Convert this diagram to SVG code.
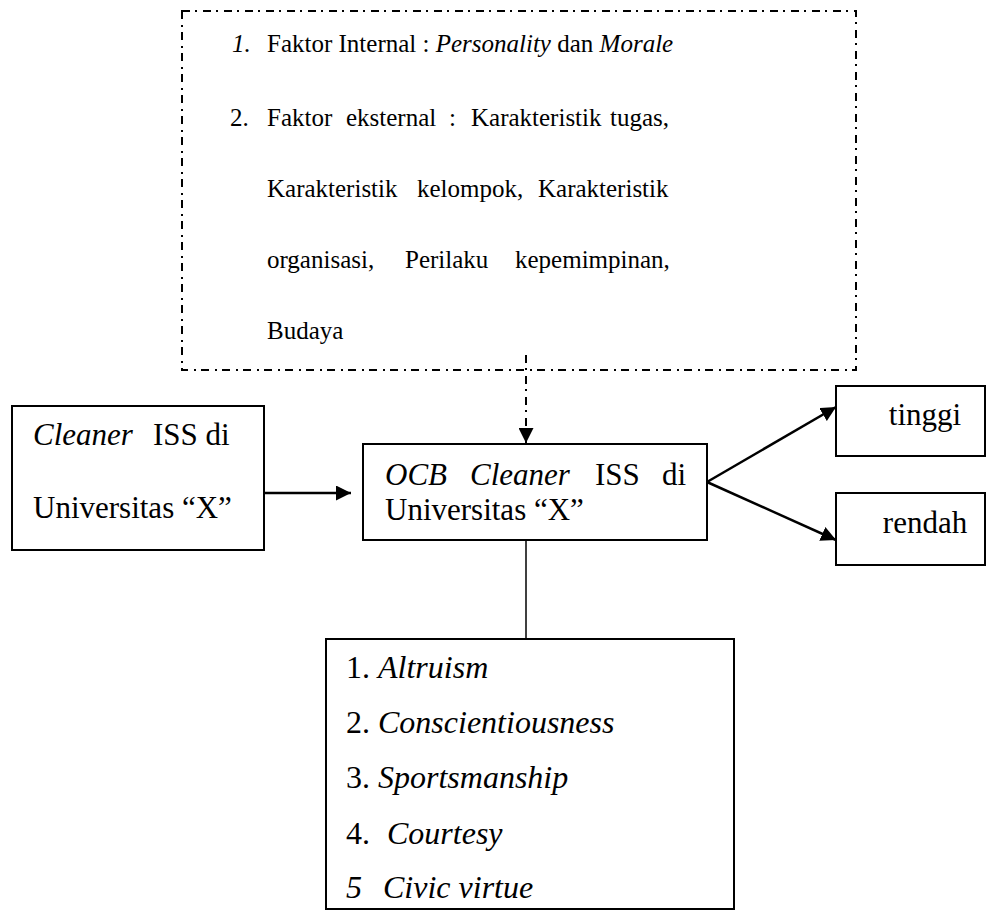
<svg xmlns="http://www.w3.org/2000/svg" width="1005" height="912" viewBox="0 0 1005 912">
<defs>
<style>
.t25{font-size:25px}
.t31{font-size:31px}
.t32{font-size:32px}
.i{font-style:italic}
.box{fill:#fff;stroke:#000;stroke-width:2}
.dd{fill:none;stroke:#000;stroke-width:2;stroke-dasharray:8 5 2 6}
.ln{fill:none;stroke:#000;stroke-width:2.5}
</style>
<marker id="ah2" viewBox="0 0 10 10" refX="10" refY="5" markerWidth="15" markerHeight="15" markerUnits="userSpaceOnUse" orient="auto">
<path d="M0,0 L10,5 L0,10 z" fill="#000"/>
</marker>
</defs>
<rect width="1005" height="912" fill="#fff"/>
<g font-family="'Liberation Serif', 'DejaVu Serif', serif" fill="#000">

<g id="faktor">
<rect class="dd" x="182" y="11" width="674" height="359"/>
<text class="t25 i" x="232" y="52">1.</text>
<text class="t25" x="267" y="52">Faktor Internal : <tspan class="i">Personality</tspan> dan <tspan class="i">Morale</tspan></text>
<text class="t25" x="230" y="126">2.</text>
<text class="t25" x="267" y="126">Faktor</text>
<text class="t25" x="346" y="126">eksternal</text>
<text class="t25" x="449" y="126">:</text>
<text class="t25" x="471" y="126">Karakteristik</text>
<text class="t25" x="610" y="126">tugas,</text>
<text class="t25" x="267" y="197">Karakteristik</text>
<text class="t25" x="417" y="197">kelompok,</text>
<text class="t25" x="538" y="197">Karakteristik</text>
<text class="t25" x="267" y="268">organisasi,</text>
<text class="t25" x="405" y="268">Perilaku</text>
<text class="t25" x="515" y="268">kepemimpinan,</text>
<text class="t25" x="267" y="339">Budaya</text>
</g>

<g id="cleaner">
<rect class="box" x="12" y="406" width="252" height="144"/>
<text class="t31" x="33" y="445"><tspan class="i">Cleaner</tspan><tspan x="153">ISS di</tspan></text>
<text class="t31" x="33" y="518">Universitas “X”</text>
</g>

<g id="ocb">
<rect class="box" x="363" y="444" width="344" height="96"/>
<text class="t31 i" x="385" y="485">OCB</text>
<text class="t31 i" x="470" y="485">Cleaner</text>
<text class="t31" x="595" y="485">ISS</text>
<text class="t31" x="662" y="485">di</text>
<text class="t31" x="385" y="520">Universitas “X”</text>
</g>

<g id="tinggi">
<rect class="box" x="836" y="386" width="149" height="70"/>
<text class="t31" x="925" y="425" text-anchor="middle">tinggi</text>
</g>

<g id="rendah">
<rect class="box" x="836" y="493" width="149" height="72"/>
<text class="t31" x="925" y="533" text-anchor="middle">rendah</text>
</g>

<g id="dimensi">
<rect class="box" x="326" y="639" width="408" height="270"/>
<text class="t32" x="346" y="678">1. <tspan class="i">Altruism</tspan></text>
<text class="t32" x="346" y="733">2. <tspan class="i">Conscientiousness</tspan></text>
<text class="t32" x="346" y="788">3. <tspan class="i">Sportsmanship</tspan></text>
<text class="t32" x="346" y="844">4.<tspan class="i" x="387">Courtesy</tspan></text>
<text class="t32 i" x="346" y="898">5<tspan x="383">Civic virtue</tspan></text>
</g>
</g>

<g id="connectors">
<line class="ln" x1="264" y1="493" x2="351" y2="493" marker-end="url(#ah2)"/>
<line class="dd" x1="526" y1="355" x2="526" y2="443" marker-end="url(#ah2)"/>
<line class="ln" x1="707" y1="482" x2="836" y2="407" marker-end="url(#ah2)"/>
<line class="ln" x1="707" y1="482" x2="836" y2="540" marker-end="url(#ah2)"/>
<line x1="526" y1="540" x2="526" y2="639" stroke="#000" stroke-width="1.5"/>
</g>
</svg>
